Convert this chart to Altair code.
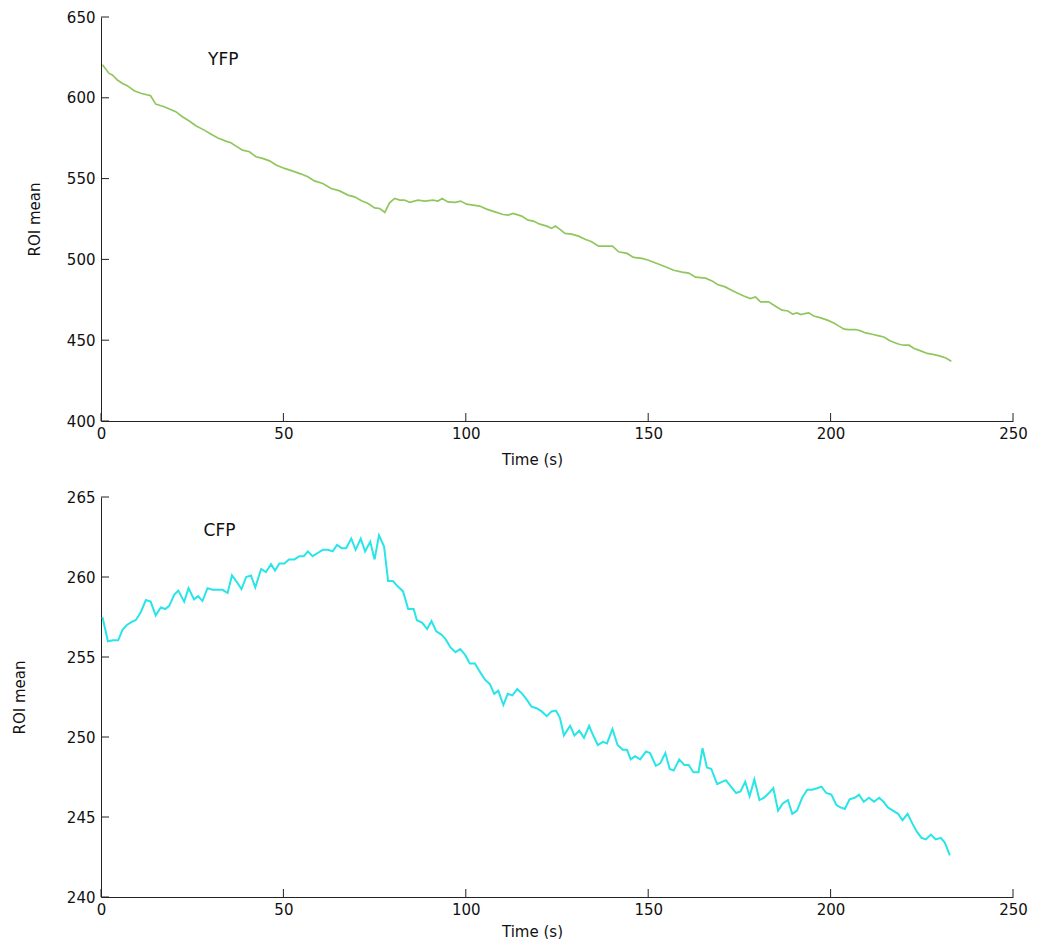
import altair as alt
import pandas as pd

# ---- data ----
yfp_time = [0.4, 2.2, 3.1, 4.5, 5.9, 7.2, 9.1, 10.9, 13.6, 15.0,
            17.3, 19.1, 20.5, 22.3, 24.2, 26.0, 28.3, 30.1, 31.9, 34.2,
            35.6, 37.0, 38.8, 40.7, 42.5, 44.3, 46.2, 48.0, 50.3, 52.6,
            54.9, 56.7, 58.5, 60.8, 63.1, 65.4, 67.7, 69.5, 71.4, 73.2,
            75.0, 76.4, 77.8, 79.1, 80.5, 81.9, 83.2, 84.6, 86.9, 88.7,
            91.0, 92.4, 93.5, 95.1, 97.0, 98.6, 100.2, 102.0, 103.8, 105.7,
            108.0, 110.2, 111.6, 113.0, 115.3, 117.1, 118.5, 120.3, 122.2, 123.5,
            124.6, 125.8, 127.2, 129.0, 130.9, 132.7, 134.5, 136.4, 138.2, 140.2,
            141.9, 144.2, 146.0, 148.3, 150.1, 152.4, 154.7, 157.0, 159.3, 161.1,
            163.0, 165.7, 167.5, 169.0, 171.1, 173.4, 176.2, 178.0, 179.4, 180.8,
            183.0, 184.9, 186.7, 188.3, 189.6, 190.8, 191.9, 192.9, 194.0, 195.4,
            197.3, 199.1, 200.9, 202.3, 203.7, 205.0, 206.9, 208.2, 209.6, 211.4,
            213.3, 214.6, 216.0, 217.4, 218.8, 220.1, 221.5, 222.9, 224.7, 226.5,
            228.4, 229.8, 231.6, 233.1]
yfp_value = [620.5, 615.1, 614.1, 611.0, 608.9, 607.5, 604.4, 602.8, 601.3, 596.1,
             594.5, 592.8, 591.4, 588.3, 585.6, 582.7, 580.0, 577.6, 575.3, 573.2,
             572.2, 570.1, 567.6, 566.6, 563.5, 562.5, 561.0, 558.4, 556.3, 554.6,
             552.8, 551.1, 548.6, 547.0, 543.9, 542.4, 539.8, 538.7, 536.3, 534.6,
             531.9, 531.5, 529.1, 535.0, 537.7, 536.7, 536.7, 535.3, 536.7, 536.1,
             536.7, 536.1, 537.7, 535.6, 535.3, 536.1, 534.2, 533.6, 533.0, 531.1,
             529.4, 527.8, 527.4, 528.5, 526.8, 524.3, 523.7, 521.8, 520.6, 519.2,
             520.6, 518.6, 516.1, 515.6, 514.4, 512.5, 510.9, 508.2, 508.2, 508.2,
             504.7, 503.7, 501.2, 500.6, 499.5, 497.5, 495.4, 493.3, 492.1, 491.5,
             489.0, 488.4, 486.7, 484.5, 483.0, 480.3, 477.4, 475.8, 476.8, 473.7,
             473.7, 471.0, 468.6, 468.1, 466.1, 466.9, 465.9, 466.5, 466.9, 465.0,
             463.8, 462.4, 460.7, 458.7, 456.8, 456.6, 456.6, 455.8, 454.5, 453.7,
             452.7, 452.0, 450.0, 448.6, 447.5, 446.9, 446.9, 444.9, 443.4, 441.8,
             441.1, 440.3, 439.0, 437.0]

cfp_time = [0.4, 1.9, 3.3, 4.7, 5.9, 7.1, 8.4, 9.5, 10.9, 12.3,
            13.6, 15.0, 16.4, 17.6, 18.7, 20.1, 21.2, 22.8, 24.0, 25.5,
            26.6, 27.8, 29.2, 30.6, 32.0, 33.3, 34.7, 35.9, 37.2, 38.5,
            39.8, 41.1, 42.3, 43.9, 45.2, 46.6, 47.7, 48.9, 50.3, 51.5,
            53.0, 54.4, 55.6, 56.7, 58.0, 59.4, 60.8, 62.2, 63.5, 64.7,
            66.0, 67.2, 68.6, 69.8, 71.2, 72.4, 73.8, 75.0, 76.2, 77.6,
            78.7, 80.0, 81.4, 82.8, 84.2, 85.7, 86.6, 88.0, 89.4, 90.6,
            91.9, 93.3, 94.5, 95.8, 97.2, 98.5, 99.9, 101.1, 102.5, 103.8,
            105.2, 106.6, 107.8, 108.9, 110.3, 111.5, 112.8, 114.1, 115.5, 116.8,
            118.0, 119.4, 120.8, 122.2, 123.5, 124.7, 125.8, 126.9, 128.6, 129.8,
            131.1, 132.4, 133.8, 135.0, 136.2, 137.6, 138.7, 140.2, 141.6, 143.0,
            144.2, 145.2, 146.4, 147.8, 149.4, 150.5, 152.1, 153.3, 154.7, 155.9,
            157.0, 158.5, 159.9, 161.1, 162.4, 163.8, 164.9, 166.1, 167.3, 168.9,
            170.2, 171.3, 172.7, 174.1, 175.3, 176.6, 177.8, 179.1, 180.5, 181.7,
            183.1, 184.3, 185.6, 186.9, 188.3, 189.5, 190.8, 192.2, 193.6, 194.9,
            196.3, 197.5, 198.8, 200.2, 201.6, 202.7, 203.9, 205.2, 206.6, 207.8,
            209.1, 210.5, 211.9, 213.3, 214.5, 215.7, 217.1, 218.5, 219.7, 221.1,
            222.4, 223.6, 224.9, 226.1, 227.5, 228.8, 230.2, 231.3, 232.7]
cfp_value = [257.5, 255.98, 256.04, 256.04, 256.7, 257.0, 257.2, 257.3, 257.8, 258.56,
             258.46, 257.6, 258.1, 258.0, 258.2, 258.9, 259.15, 258.46, 259.3, 258.6,
             258.8, 258.5, 259.3, 259.2, 259.2, 259.2, 259.0, 260.1, 259.7, 259.25,
             260.0, 260.1, 259.35, 260.5, 260.3, 260.8, 260.4, 260.85, 260.85, 261.1,
             261.1, 261.3, 261.3, 261.6, 261.3, 261.5, 261.7, 261.7, 261.6, 262.0,
             261.8, 261.8, 262.4, 261.7, 262.4, 261.6, 262.2, 261.1, 262.6, 261.9,
             259.75, 259.75, 259.4, 259.1, 258.0, 258.0, 257.3, 257.15, 256.75, 257.25,
             256.6, 256.4, 256.1, 255.6, 255.3, 255.5, 255.1, 254.6, 254.6, 254.1,
             253.6, 253.3, 252.7, 252.9, 252.0, 252.7, 252.6, 253.0, 252.7, 252.3,
             251.9, 251.8, 251.6, 251.3, 251.6, 251.65, 251.2, 250.1, 250.7, 250.1,
             250.4, 249.95, 250.7, 250.06, 249.5, 249.7, 249.6, 250.5, 249.5, 249.2,
             249.2, 248.6, 248.8, 248.6, 249.1, 249.0, 248.2, 248.35, 249.0, 248.0,
             247.9, 248.6, 248.25, 248.25, 247.8, 247.8, 249.3, 248.1, 248.0, 247.06,
             247.2, 247.3, 246.9, 246.5, 246.6, 247.2, 246.3, 247.35, 246.06, 246.2,
             246.5, 246.8, 245.4, 245.85, 246.06, 245.2, 245.4, 246.2, 246.7, 246.7,
             246.8, 246.9, 246.5, 246.4, 245.75, 245.6, 245.5, 246.1, 246.2, 246.4,
             245.95, 246.2, 245.95, 246.2, 245.95, 245.6, 245.4, 245.2, 244.8, 245.2,
             244.6, 244.1, 243.7, 243.6, 243.9, 243.6, 243.7, 243.4, 242.6]

x_ticks = [0, 50, 100, 150, 200, 250]
yfp_ticks = [400, 450, 500, 550, 600, 650]
cfp_ticks = [240, 245, 250, 255, 260, 265]

FONT = "DejaVu Sans"
W = 912


def panel(time, value, color, lw, ydom, yticks, label, label_t, label_v, H, ytitle_pad, xtitle_pad):
    df = pd.DataFrame({"t": time, "v": value})
    xs = alt.Scale(domain=[0, 250], nice=False, zero=False)
    ys = alt.Scale(domain=ydom, nice=False, zero=False)
    xaxis = alt.Axis(title="Time (s)", values=x_ticks, ticks=False, grid=False,
                     labelPadding=5, titlePadding=xtitle_pad, titleX=431, labelFlush=False,
                     labelOverlap=False)
    yaxis = alt.Axis(title="ROI mean", values=yticks, ticks=False, grid=False,
                     labelPadding=6, titlePadding=ytitle_pad, labelFlush=False,
                     labelOverlap=False)
    X = lambda: alt.X("t:Q", scale=xs, axis=xaxis)
    Y = lambda: alt.Y("v:Q", scale=ys, axis=yaxis)

    line = alt.Chart(df).mark_line(color=color, strokeWidth=lw).encode(x=X(), y=Y())
    xt = alt.Chart(pd.DataFrame({"t": x_ticks})).mark_rule(color="#222", strokeWidth=1).encode(
        x=X(), y=alt.value(H), y2=alt.value(H - 8))
    yt = alt.Chart(pd.DataFrame({"v": yticks})).mark_rule(color="#222", strokeWidth=1).encode(
        y=Y(), x=alt.value(0), x2=alt.value(8))
    txt = alt.Chart(pd.DataFrame({"t": [label_t], "v": [label_v], "s": [label]})).mark_text(
        font=FONT, fontSize=17, color="#111", align="center", baseline="middle").encode(
        x=X(), y=Y(), text="s:N")
    return alt.layer(line, xt, yt, txt).properties(width=W, height=H)


top = panel(yfp_time, yfp_value, "#8fc75e", 1.7, [400, 650], yfp_ticks, "YFP", 33.5, 623.5, 404, 24, 11)
bottom = panel(cfp_time, cfp_value, "#2ae5e8", 2.0, [240, 265], cfp_ticks, "CFP", 32.5, 262.9, 400, 39, 7)

chart = alt.vconcat(top, bottom, spacing=76, bounds="flush").properties(
    padding={"top": 2, "left": 4, "right": 0, "bottom": 0}
).configure_view(stroke=None).configure_axis(
    domainColor="#222", domainWidth=1,
    labelFont=FONT, labelFontSize=15, labelColor="#111",
    titleFont=FONT, titleFontSize=15, titleFontWeight="normal", titleColor="#111",
)

chart.save("out.html", embed_options={"renderer": "svg", "actions": False})
